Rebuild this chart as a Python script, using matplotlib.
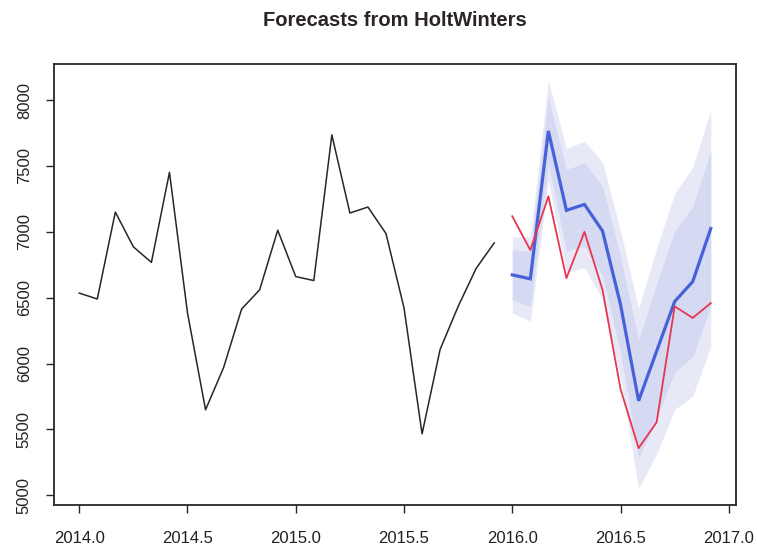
import numpy as np
import matplotlib
matplotlib.use("Agg")
import matplotlib.pyplot as plt

# Observed monthly series, Jan 2014 - Dec 2015
observed = [6535, 6490, 7150, 6886, 6768, 7452, 6384, 5649, 5969, 6414, 6560, 7012,
            6660, 6630, 7736, 7143, 7188, 6987, 6422, 5466, 6107, 6434, 6723, 6916]

# Holt-Winters point forecasts for 2016 and the actual 2016 values
forecast = [6673, 6643, 7766, 7163, 7208, 7007, 6447, 5717, 6094, 6471, 6622, 7025]
actual_2016 = [7118, 6861, 7269, 6648, 7000, 6560, 5806, 5358, 5554, 6434, 6346, 6459]

# Prediction intervals
lo95 = [6383, 6323, 7386, 6693, 6728, 6487, 5887, 5050, 5314, 5651, 5752, 6125]
hi95 = [6963, 6963, 8150, 7633, 7688, 7527, 7007, 6417, 6874, 7291, 7492, 7925]
lo80 = [6483, 6433, 7516, 6853, 6893, 6667, 6082, 5280, 5584, 5936, 6052, 6435]
hi80 = [6863, 6853, 8016, 7473, 7523, 7347, 6812, 6177, 6604, 7006, 7192, 7615]

start_year = 2014
x_ticks = [2014.0, 2014.5, 2015.0, 2015.5, 2016.0, 2016.5, 2017.0]
y_ticks = [5000, 5500, 6000, 6500, 7000, 7500, 8000]
title = "Forecasts from HoltWinters"

plt.rcParams["font.family"] = ["Liberation Sans", "DejaVu Sans"]

t_obs = start_year + np.arange(len(observed)) / 12.0
t_fc = start_year + (len(observed) + np.arange(len(forecast))) / 12.0

fig = plt.figure(figsize=(7.57, 5.51), dpi=100)
ax = fig.add_axes([0.0713, 0.0835, 0.9010, 0.8003])

ax.fill_between(t_fc, lo95, hi95, color="#e7e9f7", lw=0)
ax.fill_between(t_fc, lo80, hi80, color="#d5d9f1", lw=0)
ax.plot(t_obs, observed, color="#2a2426", lw=1.1)
ax.plot(t_fc, forecast, color="#4762d8", lw=2.3, solid_joinstyle="miter")
ax.plot(t_fc, actual_2016, color="#e8364f", lw=1.3)

# R-style 4% axis extension
xmin, xmax = t_obs[0], t_fc[-1]
xr = xmax - xmin
ax.set_xlim(xmin - 0.04 * xr, xmax + 0.04 * xr)
ymin = min(min(observed), min(lo95), min(actual_2016))
ymax = max(max(observed), max(hi95), max(actual_2016))
yr = ymax - ymin
ax.set_ylim(ymin - 0.04 * yr, ymax + 0.04 * yr)

ax.set_xticks(x_ticks)
ax.set_xticklabels([f"{v:.1f}" for v in x_ticks], fontsize=12)
ax.set_yticks(y_ticks)
ax.set_yticklabels([str(v) for v in y_ticks], fontsize=12, rotation=90, va="center")

ax.tick_params(axis="both", direction="out", length=6, width=1.0, color="#2a2426",
               labelcolor="#222222")
ax.tick_params(axis="x", pad=13)
ax.tick_params(axis="y", pad=10)
for s in ax.spines.values():
    s.set_linewidth(1.3)
    s.set_color("#2a2426")

fig.text(0.5218, 0.962, title, ha="center", va="center", fontsize=14.5,
         fontweight="bold", color="#2a2426")

fig.savefig("out.png", dpi=100)
